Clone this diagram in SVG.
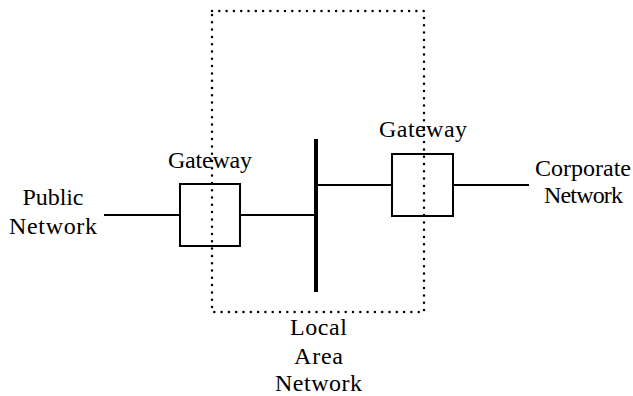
<svg xmlns="http://www.w3.org/2000/svg" width="633" height="396" viewBox="0 0 633 396">
  <style>
    .lbl { font-family: "Liberation Serif", "DejaVu Serif", serif; font-size: 24px; fill: #000; text-anchor: middle; }
    .wire { stroke: #000; stroke-width: 2; fill: none; }
    .box { stroke: #000; stroke-width: 2; fill: none; }
    .lan { stroke: #000; stroke-width: 2.5; fill: none; stroke-dasharray: 0 7.3; stroke-linecap: round; }
  </style>
  <rect width="633" height="396" fill="#fff"/>

  <!-- Local area network boundary -->
  <g id="lan-boundary">
    <rect class="lan" x="212" y="11" width="212" height="301"/>
    <text class="lbl" x="318.5" y="335" font-family="Liberation Serif, serif" textLength="57">Local</text>
    <text class="lbl" x="318.5" y="364" font-family="Liberation Serif, serif" textLength="49">Area</text>
    <text class="lbl" x="318.5" y="391" font-family="Liberation Serif, serif" textLength="87">Network</text>
  </g>

  <!-- Connectors -->
  <g id="connectors">
    <line class="wire" x1="104" y1="215" x2="180" y2="215"/>
    <line class="wire" x1="240" y1="215" x2="316" y2="215"/>
    <line class="wire" x1="316" y1="185" x2="392" y2="185"/>
    <line class="wire" x1="453" y1="185" x2="529" y2="185"/>
  </g>

  <!-- LAN backbone -->
  <g id="lan-bus">
    <line x1="316" y1="139" x2="316" y2="292" stroke="#000" stroke-width="4"/>
  </g>

  <g id="public-network">
    <text class="lbl" x="53" y="205" textLength="61">Public</text>
    <text class="lbl" x="53" y="234" textLength="88">Network</text>
  </g>

  <g id="gateway-left">
    <rect class="box" x="180" y="184" width="60" height="62"/>
    <text class="lbl" x="210" y="168" textLength="84">Gateway</text>
  </g>

  <g id="gateway-right">
    <rect class="box" x="392" y="154" width="61" height="62"/>
    <text class="lbl" x="423" y="137" textLength="88">Gateway</text>
  </g>

  <g id="corporate-network">
    <text class="lbl" x="583" y="176" textLength="96">Corporate</text>
    <text class="lbl" x="583.5" y="203" textLength="79">Network</text>
  </g>
</svg>
